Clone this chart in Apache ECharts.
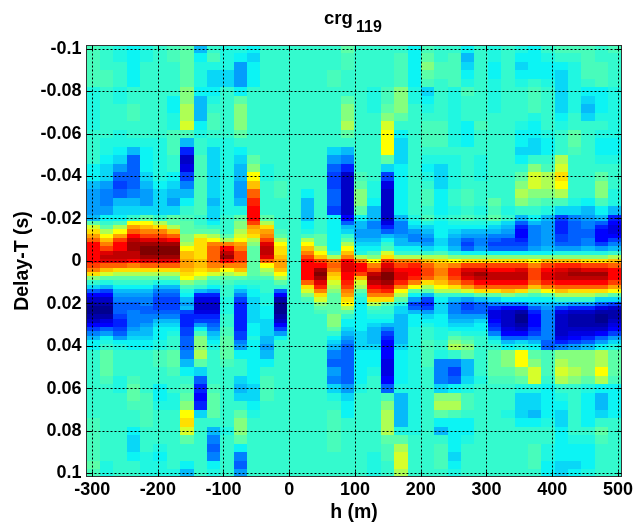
<!DOCTYPE html>
<html><head><meta charset="utf-8">
<style>html,body{margin:0;padding:0;background:#fff}#c{width:634px;height:527px}</style>
<script src="https://cdn.jsdelivr.net/npm/echarts@6/dist/echarts.min.js"></script>
</head><body><div id="c"></div>
<script>
// Delay-T rows (s): coarse above/below the band, fine through it
const delays=[-0.1,-0.096,-0.092,-0.088,-0.084,-0.08,-0.076,-0.072,-0.068,-0.064,-0.06,-0.056,-0.052,-0.048,-0.044,-0.04,-0.036,-0.032,-0.028,-0.024,
-0.02,-0.018,-0.016,-0.014,-0.012,-0.01,-0.008,-0.006,-0.004,-0.002,0,0.002,0.004,0.006,0.008,0.01,0.012,0.014,0.016,0.018,0.02,0.022,0.024,0.026,0.028,0.03,0.032,0.034,0.036,0.038,0.04,
0.044,0.048,0.052,0.056,0.06,0.064,0.068,0.072,0.076,0.08,0.084,0.088,0.092,0.096,0.1];
const xTicks=[-300,-200,-100,0,100,200,300,400,500];
const yTicks=[-0.1,-0.08,-0.06,-0.04,-0.02,0,0.02,0.04,0.06,0.08,0.1];
const c00=[7.5,7.5,7.5,7.5,7.5,6.5,6.5,6.5,6.5,6.5,7,7,7,7,6,6,5,4.5,4.5,4.5, 5,8,9.5,10.5,11.5,12.5,14,14,14,14,14,13,12,10.5,8.5,7,5.5,3.5,2,1,.5,0,0,.5,1,2,3,4,5,6,6, 7,7,7,7,7,7,7,7,7.5,7.5,7.5,7.5,7.5,8,7.5];
const c01=[7,7,7,7.5,7.5,7,7,7,7,7,7,6.5,6.5,6,5.5,5.5,4.5,4,4,4.5, 6,7,8,9,10,11,12,13,14.5,15,14.5,12.5,11,9.5,8,6.5,5,3,2,1,.5,0,0,.5,1.5,2,3.5,4.5,6,6.5,7, 8,8,8,7.5,7,7,7,7,7,7,7,7,7,6.5,6.5];
const c02=[6.5,6.5,7,7,7,6.5,6.5,7,7,7,6.5,6.5,6,5.5,4.5,3.5,3,3.5,5,5.5, 6,7.5,9,10,11.5,13,14,14,15,15,14.5,12.5,10.5,9,8,7,6,5,4.5,4,3.5,3.5,3.5,3,2.5,2.5,3,3.5,4.5,6,6.5, 7,7,7,6.5,6.5,7,7,7,7,7,7,7,7,7,7];
const c03=[6,6,6,6,6,7,7,7.5,7.5,7,7,6.5,5,3.5,3.5,3.5,3.5,4,5,5.5, 7,10,11.5,12.5,14,15,15.5,15.5,15,15,14,12,10.5,9,8,7,6,5,4.5,4,3.5,3.5,4,4,4,4,4.5,5,5.5,6,6, 7,7,7,7.5,8,8,7.5,7,7,6,5.5,5.5,6,7,7];
const c04=[6.5,6.5,7,7,7,7,7,7,7,7,7,6.5,6,6,6,5.5,5,4.5,4.5,5.5, 8,10,11,12,13,14.5,15.5,16,16,15.5,14.5,12.5,10.5,9,8,7,6,5,4.5,4,4,3.5,3.5,4,4,4.5,5,5,5.5,6,6, 7,7,7,7,7,7.5,7.5,7.5,7.5,7,7,7,6.5,6.5,6.5];
const c05=[7,7,7,7,7,7,7,7,7,7,7,6.5,6.5,6.5,6.5,6.5,6,5.5,5.5,5.5, 7,9,10.5,12,13,14.5,15.5,16,16,15.5,14.5,12.5,10.5,9,8,6.5,5,4,3.5,3,3,3,3.5,4,5,5.5,6,6,6,6.5,6.5, 7.5,7.5,7,7,6,6,6.5,7,7,7,7,6.5,6,6.5,6.5];
const c06=[7.5,7.5,7,7,7,7,6,6,6.5,6.5,7.5,7.5,7.5,7,7,6,5.5,5,4.5,5.5, 8,8,9,11,12.5,14,15.5,16,16,15.5,14.5,12.5,10.5,9,8,6.5,5,4,3.5,3,3,3,3.5,4,5,5.5,6,6.5,7,7,7, 8,8,7.5,7,7,6.5,6.5,7,7,7,7,7,7,7,6.5];
const c07=[8,8,8,8,8,8.5,8.5,9,9,9.5,7.5,5,2.5,1,1.5,3,4,5,6,7, 7.5,8,8,8,8.5,8.5,9,10,11,11,11.5,11.5,11,10.5,10,8.5,7.5,6.5,6,5,4.5,5,3,2.5,2.5,2.5,3,3,3.5,3.5,3.5, 4,5,6,7,7.5,8,8.5,10,10.5,9.5,8,7,7,6,5];
const c08=[5,6,6.5,6.5,6.5,6,5,5,5,6,6.5,7,7,7.5,7.5,7.5,7.5,7.5,7.5,7.5, 7,7,7.5,8,9.5,10.5,10.5,10.5,10.5,10.5,11,11,10.5,10,9,8,7,5,2.5,1.5,1,1,1.5,2.5,3,4.5,6,7.5,8.5,8.5,8.5, 9,8,5.5,3.5,2.5,2,2.5,5.5,7,7,7,7,7,7,7];
const c09=[7,7.5,6.5,5.5,5.5,6,6.5,7,7.5,7.5,7,6.5,5.5,5.5,5.5,5.5,5.5,5.5,5,5.5, 5.5,6,7,8,9,10,12,12.5,12.5,12.5,12.5,12,11,9.5,8,7,6,4.5,2.5,1.5,1,1,1.5,2.5,3,3.5,4,5,5.5,6,6.5, 7,7,7,7,7.5,8,8,8,7,5,4,3.5,4,6,6.5];
const c10=[6.5,6.5,6.5,5.5,5.5,7,7,7,7,7,7,6.5,6.5,6.5,6.5,6.5,6.5,6.5,6.5,6.5, 7,7,7,7,8,9,12,14,15,15.5,14,12,10,9,8,7.5,7,7,7,6.5,6.5,6.5,6.5,7,7,7,7.5,7.5,8,8,8, 8,7.5,7,7,7,7,7,7,7,6.5,7,7,7,7,7];
const c11=[6.5,6,4.5,4.5,4.5,6,8,8.5,8.5,8.5,8,7,6,5.5,5,5,4.5,4.5,5,6.5, 8,8.5,8.5,9,9.5,10,11.5,12,13,13,13,12,11,9.5,8,7,6,5,4,3,2.5,2.5,2.5,2.5,2.5,2.5,2.5,3,3,4,4.5, 6,7,7,5.5,5,5.5,7,8,8.5,8.5,8,6,4,3.5,4.5];
const c12=[6,5.5,6,6,6,7,7,7,7,7,7,7,7,8,8.5,10,11,12.5,13.5,14, 14,13,11.5,11,10.5,9,8.5,8,8,8,8,8,8,8,7.5,7,6.5,6,6,5.5,5.5,5.5,5.5,5.5,5.5,6,6,6,6.5,6,6, 6,6,6,6,5.5,5.5,6,6.5,7,7,7,7,7,7,7];
const c13=[7,7,7,7,7,7,7,7,7,7,7,7,7,7,6.5,6.5,7,7,7,7, 8,9,10.5,11.5,12,13,14.5,15,15,14.5,12.5,10,9,8.5,7.5,7,7,7,6.5,6.5,6.5,6,6,6,5.5,5.5,5.5,5.5,5,5,4.5, 5,6,7,7.5,7.5,7.5,7,7,7,7,7,7,7,7,7];
const c14=[7,7,7,7,7,7,7,7,7,7,7,7,7,7,7,7,7.5,7.5,7,7, 7,7,7,7.5,8,9,10,10.5,10.5,11,11.5,11.5,11,10,9,8,7,3.5,2,.5,0,0,0,.5,1,2,3,4.5,6,7,7, 7,7,7,7,7,7,7,7,7,7,7,7,7,7,7];
const c15=[7,7,7,7,7,7,7,7,7,7,7,7,7,7,7,7,7,7,7,7, 7,7,7,7,7,7,7,7,7,7,7,7,7,7,7,7,7,7,7,7,7,7,7,7,7,7,7,7,7,7,7, 7,7,7,7,7,7,7,7,7,7,7,7,7,7,7];
const c16=[7,7,7,7,7,7,7,7,7,7,7,7,7,7,7,7,7,6,5,5, 5,6,6,6.5,7.5,9,10,11,12,13,14,14,14,14,14,12.5,10.5,9.5,8.5,7.5,7,7,7,7,7,7,7,7,7,7,7, 7,7,7,7,7,7,7,7,7,7,7,7,7,7,7];
const c17=[7,7,7,7,7,7,7,7,7,7,7,7,7,7,7,7,7,7,7,7, 7,7,7,7,8,8,8,9,10,11,13,14,15.5,16,15.5,14.5,13.5,12,10.5,9.5,8.5,8,7.5,7,7,7,7,7,7,7,7, 7,7,7,7,7,7,7,7,7,7,7,7,7,7,7];
const c18=[7,7,7,7.5,7.5,7,7,7,7,7,7,7,5.5,4.5,3.5,3,3,3.5,3.5,3, 6,6,6,6,6,6,6,6,7,9,12,12.5,12,11,10.5,9.5,9,8.5,8,8,8,8,8,8.5,8.5,8.5,8,7,6,5.5,5, 4,3.5,4.5,4,5.5,6.5,7,7.5,7.5,7.5,7.5,7.5,7,7,7];
const c19=[8,7.5,7.5,7,7,7,8,8.5,8.5,9,8,7,5,4,2.5,1,1,1,1,1, 2,3.5,5,5.5,7,8,9,10,11,12,14,14.5,14.5,14,14,13.5,13,12,11.5,10.5,10,9,8,7,6,6,5.5,5,4.5,4,3.5, 3.5,3.5,3.5,3.5,4.5,5.5,6,6,7,7,7,7,7,7,7];
const c20=[7,7,7,7,7,7,7,7,7,7,7,7,7,7,7,7.5,8,8.5,8.5,8, 6,5,5,4.5,4.5,5,5.5,6,6.5,9,12,14,14,13,11,9.5,9,8,7,6.5,6,6,6,6,6,6,6,5.5,5.5,5.5,5.5, 6,6,6,6,6.5,7,7,7,7,7,7,7,7,7,7];
const c21=[7,7,7,7,7,6.5,6.5,6.5,7,7,7,7,7,7,7,7,6.5,6.5,6,5, 5,4,4,4.5,4.5,5,5.5,6,7.5,8.5,10,12,13,15,15.5,15,14,13,12,10.5,9,7.5,7,6.5,6,5.5,5,5,5,5,5.5, 6,6,6.5,7,7,7,7,7,7,7,7,7,6.5,6.5,6.5];
const c22=[7,7,7,7,7,7.5,7.5,8,8.5,9.5,10,10,10,8,5.5,3,1.5,1,1,1, 1,1.5,2.5,3.5,5,6,7,7.5,9.5,10.5,13,14.5,15,16,16,15.5,14.5,13.5,12,10.5,8,7,7,6.5,6,5,4,3,2.5,2,2, 2,1.5,1.5,2,3.5,7.5,8.5,9,9,9,8,7.5,7.5,7,7];
const c23=[7,7.5,7.5,7.5,7.5,8.5,8.5,8.5,8,7,6,5.5,5.5,5.5,6,6,6,6,6,6, 5,4,4,4,4.5,5,5,6,7,9,12,13,14,14.5,14.5,13.5,12,10,9,8,6.5,5.5,5.5,5,5,5,5,5,5,5,5.5, 6,6,6,6,6.5,5,5,5,5,6.5,8,9,9.5,9.5,9];
const c24=[6,6,6,6,6,6.5,6.5,7,7,7,7,7,7,7,7,7,7,7,7,7, 6.5,6,5.5,4.5,4,4,5,6,7,9,12,13.5,14,14,13.5,12,10,8,6,4.5,3,3.5,5,6,6,6,6.5,6.5,6.5,6.5,6.5, 6.5,6.5,6.5,6.5,6.5,6.5,6.5,6.5,6.5,6.5,7,7,7,7,7];
const c25=[7.5,8,8.5,8,7.5,5.5,6,6.5,7,7.5,7.5,7.5,7,6.5,6,6.5,7,7.5,7.5,7, 7.5,6.5,5.5,5,4.5,4,4.5,5.5,7,9,11,12.5,13,13,12.5,10.5,9,8,5,3,2.5,3,4.5,5.5,6,6.5,7,7,7,7.5,7.5, 7.5,7.5,7,7,7,7,7,7,7,7,7,7,7,7,7];
const c26=[7,7,7.5,7.5,7,7,7,7,7,7.5,7.5,7.5,7,6.5,5.5,5.5,5.5,6,6,6, 6.5,6,6,6,6,5.5,5.5,6,7.5,9,10.5,11.5,12,12,11.5,11,10,9,7,6,5.5,5.5,5.5,6,6,6,6.5,6.5,6.5,7,7, 6.5,4,4,4,5.5,8.5,9,8,6,5,7,7.5,7.5,7.5,7];
const c27=[7,7.5,7.5,7.5,7.5,6.5,6.5,6.5,6.5,6.5,6.5,6.5,7,6.5,6.5,6.5,6.5,7,7,6.5, 7,6.5,6,5.5,5,4.5,4.5,5,6.5,8.5,10,12,13.5,13.5,13,12,10.5,9,7,5,4,4,4,4.5,5,5.5,6,7,8,8.5,9, 7,4,3,3.5,6,8.5,9,7.5,6,6,6,6,5.5,6,6.5];
const c28=[6,5,5.5,6,6.5,7.5,7,7,7,6,6,6,7,7,7,7,7,7.5,7.5,7, 7.5,6.5,6,5,4.5,3.5,3,3.5,6,8.5,10.5,13,14.5,15,14.5,13,11.5,9.5,7,4.5,3,3,3.5,4.5,5,5.5,6,6.5,7.5,8,8.5, 8,5,5,5.5,6.5,7.5,7.5,7,6,6,6.5,7,7,7,7];
const c29=[7,7,7,7,7,7,7,7,7,7.5,7,7,7,6.5,6.5,6.5,7,7,7,6.5, 7,6.5,6,5,4.5,4,4,4.5,6,8.5,10.5,13,14.5,15.5,15,14,12.5,10.5,8,5,3.5,3.5,3.5,4.5,5.5,6,6,6.5,7,7,7, 7,7,7,6.5,7,7,7,7,7,7,7,7,7,7,7];
const c30=[6.5,6.5,6,6,6.5,6.5,6.5,6.5,7,7,7,7,7,7,7,7,7,7,8,7.5, 8,6.5,5.5,5,4,3.5,3,3.5,6,8.5,10.5,13,14,15,15,14,12.5,10.5,8,5.5,4,2.5,1.5,1.5,2,2.5,3,4,5.5,6.5,7, 8,8,8,7.5,7,7,7,7,7,7,7,7,7,7,7];
const c31=[7,7,7,7,7,7,7,7,7,7,7,7,7,7,7,7,7,7,7,6.5, 7,5.5,5,4.5,4,3,3,3.5,6,8.5,10.5,13,14,15,15,14,12.5,11,8.5,6,4,2,1,1,1,1,1.5,2,3.5,5,6, 8.5,8.5,8,7.5,7,7,7,6.5,7,7,7,7,7,7,7];
const c32=[6.5,6,5.5,6,6.5,7,7,7,7,6.5,6,6,5.5,6,7,8,8.5,9,8.5,7, 5,3.5,2.5,2,2,2.5,3,3.5,6,8.5,10.5,13,14.5,15,15,14,12.5,10.5,8,6,4,2,.5,0,0,.5,1,2,3.5,5.5,6.5, 10,10,8.5,8,6.5,5.5,5.5,5.5,6,7,7,7,7,7,7];
const c33=[6,6,6,6,7,7.5,7.5,7.5,6.5,6,6,5.5,5.5,7,8.5,9.5,9.5,8.5,8,7, 6,5,4,4,4,4,4,4.5,6,8.5,10,12,13,13,13,12.5,11,9,7.5,6,5,3.5,2.5,2,2,2,2.5,3,4,5,6, 8,8.5,9.5,9.5,6.5,5.5,5.5,5,6,7,7,7.5,7.5,7.5,7];
const c34=[7,6.5,6,6,6.5,7,7,7,7,7,6.5,6,6,7,7.5,9,9,8.5,7.5,6.5, 5,4.5,4.5,4.5,4.5,4.5,4.5,5,6,8.5,11,13,14,14.5,14.5,13.5,12,10,8,6,5,4.5,4,4,4,4,4,4,4,3.5,3.5, 7.5,7.5,7.5,7,6,6,6,6,6.5,7,7,6.5,6.5,6,6];
const c35=[7.5,7,6,5.5,5.5,5.5,5.5,5.5,6,6.5,7,7,7,9,9.5,10.5,10,9,7.5,5.5, 3,2.5,2.5,2.5,3,3,3.5,4.5,6.5,8.5,11,13.5,14.5,15,15,14,12.5,11,9,7,5,3,1.5,1,1,1,1,1,1.5,2.5,4, 8.5,9,9.5,9,7,6.5,6,5.5,5.5,6,6,6,6,5.5,5.5];
const c36=[7.5,7,6.5,6.5,6.5,6.5,6.5,6.5,7,7,8,8,7.5,7,7,7,7,7,6.5,5.5, 4,3.5,3.5,3.5,3.5,3.5,3.5,4.5,6.5,8.5,11,13.5,15,15.5,15,14,12.5,10.5,9,7,4.5,2.5,1,.5,.5,.5,1,1.5,2,3,4.5, 8.5,8.5,9,8.5,7,7,7,7,7,7,6.5,6,6,5.5,6];
const c37=[7.5,7.5,7.5,7.5,7,6,5.5,5,5.5,7,7,7,7,7,7,7,7,7,6,5, 4.5,4,4,3.5,3.5,4,4,5,6.5,8.5,10.5,13,14.5,15.5,15,14,12.5,10.5,9,7,4.5,2.5,1,.5,.5,.5,1,1.5,2.5,3.5,5, 8.5,8.5,8.5,8,6.5,6,6,6,6,7,6.5,6,6,6,6.5];
const c38=[7,7,7.5,7.5,7.5,6,6,6,6.5,7,6.5,6,6,6.5,7,8,8.5,8.5,7.5,6, 5,3.5,2.5,2,2,2,3,4.5,6.5,8.5,10.5,13,14.5,15.5,15,14,12.5,10.5,8.5,5.5,3.5,1.5,.5,0,0,.5,1,2,3.5,4.5,6, 9,9,10,9,6,5,5,5.5,7,8,7.5,7,7,7,7];
const c39=[7.5,7,7,7,7,6.5,6.5,6.5,6.5,6.5,6.5,6,6,6.5,7,7,7,6.5,6.5,5, 2.5,2,1.5,1.5,2,3,4,5,7,9,11,12.5,14,14,14,13,11.5,10,8,5.5,3,1,.5,.5,1,1.5,2,3,4.5,5.5,6.5, 8,8,8,7.5,6,6,6,6,7,7,7,7,7,7,7];
const columns=[c00,c01,c02,c03,c04,c05,c06,c07,c08,c09,c10,c11,c12,c13,c14,c15,c16,c17,c18,c19,c20,c21,c22,c23,c24,c25,c26,c27,c28,c29,c30,c31,c32,c33,c34,c35,c36,c37,c38,c39];

const hMin=-308.6, hStep=20.35, hMax=hMin+hStep*columns.length, dMin=-0.1016, dMax=0.1014;
const jet=['#00008f','#0000ff','#0080ff','#0cf4f4','#5cffa8','#ffff00','#ff8000','#ff0000','#800000'];
const cells=[];
columns.forEach((col,i)=>{
  col.forEach((v,r)=>{
    const d=delays[r];
    const dLo=r===0?dMin:(delays[r-1]+d)/2, dHi=r===delays.length-1?dMax:(delays[r+1]+d)/2;
    cells.push([hMin+hStep*(i+.5),d,v,hMin+hStep*i,hMin+hStep*(i+1),dLo,dHi]);
  });
});
const font={fontFamily:'"Liberation Sans",Arial,sans-serif',fontWeight:'bold',color:'#000'};
const fmtY=v=>String(+(+v).toFixed(2));
const gridStyle={show:true,lineStyle:{color:'#000',width:1,type:[2,2]}};
const lineStyle={show:true,onZero:false,lineStyle:{color:'#333',width:1}};
function xA(pos,lab){return {type:'value',position:pos,min:hMin,max:hMax,z:5,axisLine:lineStyle,
  axisTick:{show:true,inside:true,length:5,customValues:xTicks,lineStyle:{color:'#000'}},
  axisLabel:lab?{show:true,customValues:xTicks,margin:5,fontSize:18,...font,showMinLabel:true,showMaxLabel:true}:{show:false},
  splitLine:lab?gridStyle:{show:false},
  name:lab?'h (m)':'',nameLocation:'middle',nameMoveOverlap:false,nameGap:26,nameTextStyle:{fontSize:19.5,...font}};}
function yA(pos,lab){return {type:'value',position:pos,inverse:true,min:dMin,max:dMax,z:5,axisLine:lineStyle,
  axisTick:{show:true,inside:true,length:5,customValues:yTicks,lineStyle:{color:'#000'}},
  axisLabel:lab?{show:true,customValues:yTicks,margin:5,fontSize:18,...font,formatter:fmtY}:{show:false},
  splitLine:lab?gridStyle:{show:false},
  name:lab?'Delay-T (s)':'',nameLocation:'middle',nameMoveOverlap:false,nameGap:54,nameTextStyle:{fontSize:19.5,...font}};}
const chart=echarts.init(document.getElementById('c'),null,{renderer:'canvas'});
chart.setOption({
  animation:false,backgroundColor:'#fff',
  title:[{text:'crg',left:324,top:9,padding:0,textStyle:{fontSize:18.5,...font}},
         {text:'119',left:356,top:20,padding:0,textStyle:{fontSize:16,...font}}],
  grid:{left:86.5,top:45.5,width:535,height:431,containLabel:false,outerBoundsMode:'none'},
  xAxis:[xA('bottom',true),xA('top',false)],
  yAxis:[yA('left',true),yA('right',false)],
  visualMap:{show:false,min:0,max:16,dimension:2,seriesIndex:0,inRange:{color:jet}},
  series:[{type:'custom',coordinateSystem:'cartesian2d',xAxisIndex:0,yAxisIndex:0,progressive:0,z:2,
    encode:{x:0,y:1},data:cells,
    renderItem:(p,api)=>{
      const a=api.coord([api.value(3),api.value(5)]),b=api.coord([api.value(4),api.value(6)]);
      const x=Math.round(a[0]),y=Math.round(a[1]);
      return {type:'rect',shape:{x,y,width:Math.round(b[0])-x,height:Math.round(b[1])-y},
        style:{fill:api.visual('color')}};
    }}]
});
</script></body></html>
